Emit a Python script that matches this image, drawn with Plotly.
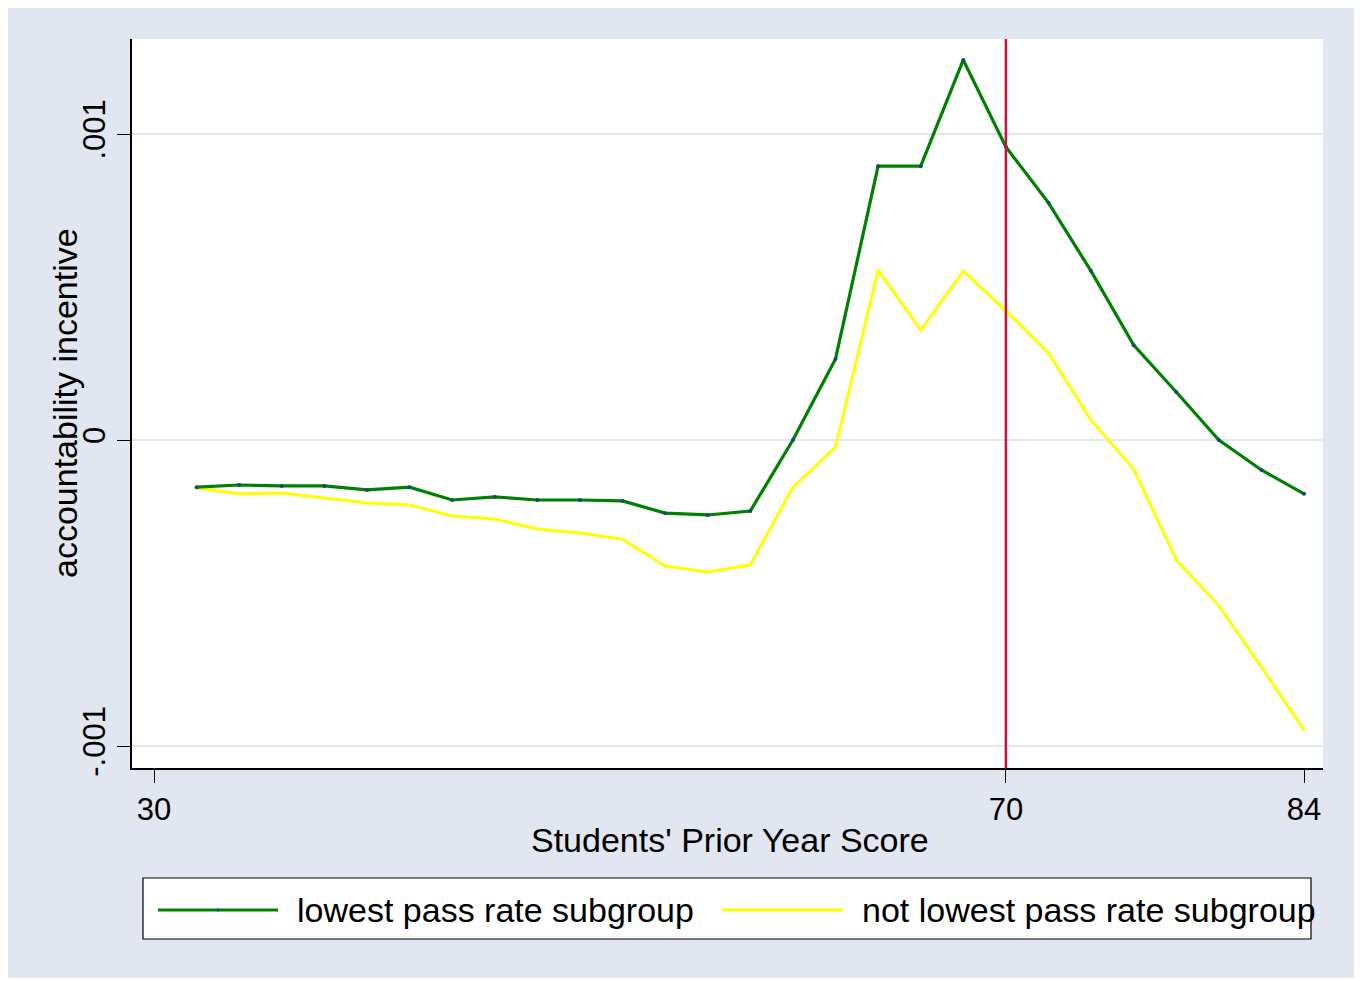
import plotly.graph_objects as go

# ---- data ----
prior_score = [32, 34, 36, 38, 40, 42, 44, 46, 48, 50, 52, 54, 56, 58,
               60, 62, 64, 66, 68, 70, 72, 74, 76, 78, 80, 82, 84]
lowest_subgroup = [-0.000154, -0.000147, -0.000150, -0.000150, -0.000163, -0.000154,
                   -0.000196, -0.000186, -0.000196, -0.000196, -0.000199, -0.000239,
                   -0.000245, -0.000232, 0.000000, 0.000265, 0.000895, 0.000895,
                   0.001242, 0.000958, 0.000775, 0.000552, 0.000310, 0.000157,
                   0.000000, -0.000098, -0.000176]
not_lowest_subgroup = [-0.000157, -0.000176, -0.000173, -0.000190, -0.000206, -0.000212,
                       -0.000248, -0.000258, -0.000291, -0.000304, -0.000324, -0.000412,
                       -0.000431, -0.000408, -0.000154, -0.000023, 0.000556, 0.000359,
                       0.000552, 0.000422, 0.000284, 0.000065, -0.000095, -0.000392,
                       -0.000542, -0.000742, -0.000948]
x_ticks = [30, 70, 84]
y_ticks = [-0.001, 0, 0.001]
y_tick_labels = ["-.001", "0", ".001"]
cutoff = 70
series_names = ["lowest pass rate subgroup", "not lowest pass rate subgroup"]
x_title = "Students' Prior Year Score"
y_title = "accountability incentive"

# ---- layout geometry (image pixel coords; page has an 8px body margin) ----
OFF = 8
W, H = 1362 - OFF, 981 - OFF
L, R, T, B = 132, 1323, 39, 768
FONT = "Liberation Sans, Arial, sans-serif"
BG = "#E1E6F0"
GREEN = "#008000"
YELLOW = "#FFFF00"
NAVY = "#1A476F"
RED = "#C8143C"


def px(xp):
    return (xp - L) / (R - L)


def py(yp):
    return (B - yp) / (B - T)


fig = go.Figure()
fig.add_trace(go.Scatter(x=prior_score, y=not_lowest_subgroup, mode="lines",
                         name=series_names[1], line=dict(color=YELLOW, width=3)))
fig.add_trace(go.Scatter(x=prior_score, y=lowest_subgroup, mode="lines+markers",
                         name=series_names[0], line=dict(color=GREEN, width=3.2),
                         marker=dict(color=NAVY, size=4)))

shapes = [
    dict(type="rect", xref="paper", yref="paper", x0=px(5), x1=px(1358), y0=py(978), y1=py(4),
         fillcolor=BG, line=dict(width=0), layer="below"),
    dict(type="rect", xref="paper", yref="paper", x0=0, x1=1, y0=0, y1=1,
         fillcolor="white", line=dict(width=0), layer="below"),
    dict(type="line", xref="x", yref="paper", x0=cutoff, x1=cutoff, y0=0, y1=1,
         line=dict(color=RED, width=2.5)),
    # legend box
    dict(type="rect", xref="paper", yref="paper", x0=px(143), x1=px(1311), y0=py(939), y1=py(878),
         fillcolor="white", line=dict(color="black", width=1.2)),
    dict(type="line", xref="paper", yref="paper", x0=px(158), x1=px(278), y0=py(910), y1=py(910),
         line=dict(color=GREEN, width=3.2)),
    dict(type="line", xref="paper", yref="paper", x0=px(722), x1=px(843), y0=py(910), y1=py(910),
         line=dict(color=YELLOW, width=3.2)),
    dict(type="circle", xref="paper", yref="paper", x0=px(216.5), x1=px(219.5), y0=py(911.5), y1=py(908.5),
         fillcolor=NAVY, line=dict(width=0)),
]

annotations = [
    dict(text=series_names[0], xref="paper", yref="paper", x=px(295), y=py(910),
         xanchor="left", yanchor="middle", showarrow=False,
         font=dict(family=FONT, size=34, color="black")),
    dict(text=series_names[1], xref="paper", yref="paper", x=px(860), y=py(910),
         xanchor="left", yanchor="middle", showarrow=False,
         font=dict(family=FONT, size=34, color="black")),
    dict(text=x_title, xref="paper", yref="paper", x=px(730), y=py(840),
         xanchor="center", yanchor="middle", showarrow=False,
         font=dict(family=FONT, size=34, color="black")),
    dict(text=y_title, xref="paper", yref="paper", x=px(65), y=py(403),
         xanchor="center", yanchor="middle", showarrow=False, textangle=-90,
         font=dict(family=FONT, size=34, color="black")),
]

fig.update_layout(
    width=W, height=H,
    margin=dict(l=L - OFF, r=(W + OFF) - R, t=T - OFF, b=(H + OFF) - B, pad=0),
    paper_bgcolor="white",
    plot_bgcolor="rgba(0,0,0,0)",
    showlegend=False,
    shapes=shapes,
    annotations=annotations,
    font=dict(family=FONT, color="black"),
    xaxis=dict(
        range=[28.967, 84.89], tickvals=x_ticks, ticktext=[str(v) for v in x_ticks],
        showgrid=False, zeroline=False, showline=True, linecolor="black", linewidth=1.5,
        ticks="outside", ticklen=13, tickwidth=1.2, tickcolor="black",
        tickfont=dict(family=FONT, size=31),
    ),
    yaxis=dict(
        range=[-0.0010719, 0.0013105], tickvals=y_ticks, ticktext=y_tick_labels,
        tickangle=-90,
        showgrid=True, gridcolor=BG, gridwidth=2, zeroline=False,
        showline=True, linecolor="black", linewidth=1.5,
        ticks="outside", ticklen=13, tickwidth=1.2, tickcolor="black",
        tickfont=dict(family=FONT, size=31),
    ),
)

fig.write_html("out.html")
